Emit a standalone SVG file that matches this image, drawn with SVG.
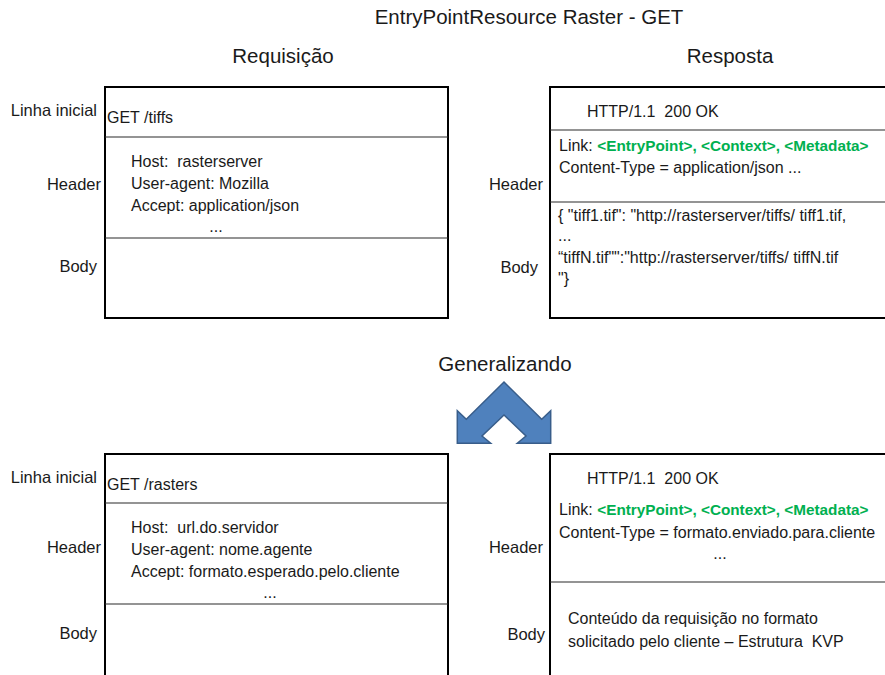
<svg xmlns="http://www.w3.org/2000/svg" width="885" height="675" viewBox="0 0 885 675">
  <style>
    text { font-family: "Liberation Sans", Arial, sans-serif; fill: #1a1a1a; font-size: 16px; white-space: pre; }
    .title { font-size: 20.5px; text-anchor: middle; }
    .lbl { text-anchor: end; font-size: 16.5px; }
    .mid { text-anchor: middle; }
    .green { fill: #00b050; font-weight: bold; font-size: 15.3px; }
    .frame { fill: #ffffff; stroke: #000000; stroke-width: 2; }
    .rule { stroke: #2a2a2a; stroke-width: 1.2; }
    .chev { fill: #4f81bd; stroke: #385d8a; stroke-width: 1.5; stroke-linejoin: miter; }
  </style>
  <rect width="885" height="675" fill="#ffffff"/>

  <!-- headings -->
  <text class="title" x="529" y="24">EntryPointResource Raster - GET</text>
  <text class="title" x="283" y="63">Requisição</text>
  <text class="title" x="730" y="63">Resposta</text>
  <text class="title" x="505" y="371">Generalizando</text>

  <!-- request, concrete -->
  <g id="req-top">
    <rect class="frame" x="105" y="87" width="343" height="231"/>
    <line class="rule" x1="105" y1="137" x2="448" y2="137"/>
    <line class="rule" x1="105" y1="238" x2="448" y2="238"/>
    <text class="lbl" x="97" y="116">Linha inicial</text>
    <text class="lbl" x="101" y="190">Header</text>
    <text class="lbl" x="97" y="272">Body</text>
    <text x="107" y="123">GET /tiffs</text>
    <text x="131" y="167">Host:  rasterserver</text>
    <text x="131" y="189">User-agent: Mozilla</text>
    <text x="131" y="211">Accept: application/json</text>
    <text class="mid" x="216" y="232">...</text>
  </g>

  <!-- response, concrete -->
  <g id="resp-top">
    <rect class="frame" x="550" y="87" width="345" height="231"/>
    <line class="rule" x1="550" y1="130" x2="885" y2="130"/>
    <line class="rule" x1="550" y1="202" x2="885" y2="202"/>
    <text class="lbl" x="543" y="190">Header</text>
    <text class="lbl" x="538" y="273">Body</text>
    <text x="587" y="117">HTTP/1.1  200 OK</text>
    <text x="559" y="151">Link: <tspan class="green">&lt;EntryPoint&gt;, &lt;Context&gt;, &lt;Metadata&gt;</tspan></text>
    <text x="559" y="173">Content-Type = application/json ...</text>
    <text x="558" y="221">{ "tiff1.tif": "http://rasterserver/tiffs/ tiff1.tif,</text>
    <text x="558" y="241">...</text>
    <text x="558" y="263">“tiffN.tif"":"http://rasterserver/tiffs/ tiffN.tif</text>
    <text x="558" y="284">"}</text>
  </g>

  <!-- double chevron arrow -->
  <g id="generalize">
    <polygon class="chev" points="504,382 541.7,419.3 550.7,410.7 550.7,443.3 517.3,443.3 526,436 504,415 482,436 490.7,443.3 457.3,443.3 457.3,410.7 466.3,419.3"/>
  </g>

  <!-- request, generic -->
  <g id="req-bottom">
    <rect class="frame" x="105" y="454" width="343" height="230"/>
    <line class="rule" x1="105" y1="503" x2="448" y2="503"/>
    <line class="rule" x1="105" y1="604" x2="448" y2="604"/>
    <text class="lbl" x="97" y="483">Linha inicial</text>
    <text class="lbl" x="101" y="553">Header</text>
    <text class="lbl" x="97" y="639">Body</text>
    <text x="107" y="490">GET /rasters</text>
    <text x="131" y="533">Host:  url.do.servidor</text>
    <text x="131" y="555">User-agent: nome.agente</text>
    <text x="131" y="577">Accept: formato.esperado.pelo.cliente</text>
    <text class="mid" x="270" y="598">...</text>
  </g>

  <!-- response, generic -->
  <g id="resp-bottom">
    <rect class="frame" x="550" y="454" width="345" height="230"/>
    <line class="rule" x1="550" y1="582" x2="885" y2="582"/>
    <text class="lbl" x="543" y="553">Header</text>
    <text class="lbl" x="545" y="640">Body</text>
    <text x="587" y="484">HTTP/1.1  200 OK</text>
    <text x="559" y="515">Link: <tspan class="green">&lt;EntryPoint&gt;, &lt;Context&gt;, &lt;Metadata&gt;</tspan></text>
    <text x="559" y="538">Content-Type = formato.enviado.para.cliente</text>
    <text class="mid" x="720" y="559">...</text>
    <text x="568" y="624">Conteúdo da requisição no formato</text>
    <text x="568" y="647">solicitado pelo cliente – Estrutura  KVP</text>
  </g>
</svg>
